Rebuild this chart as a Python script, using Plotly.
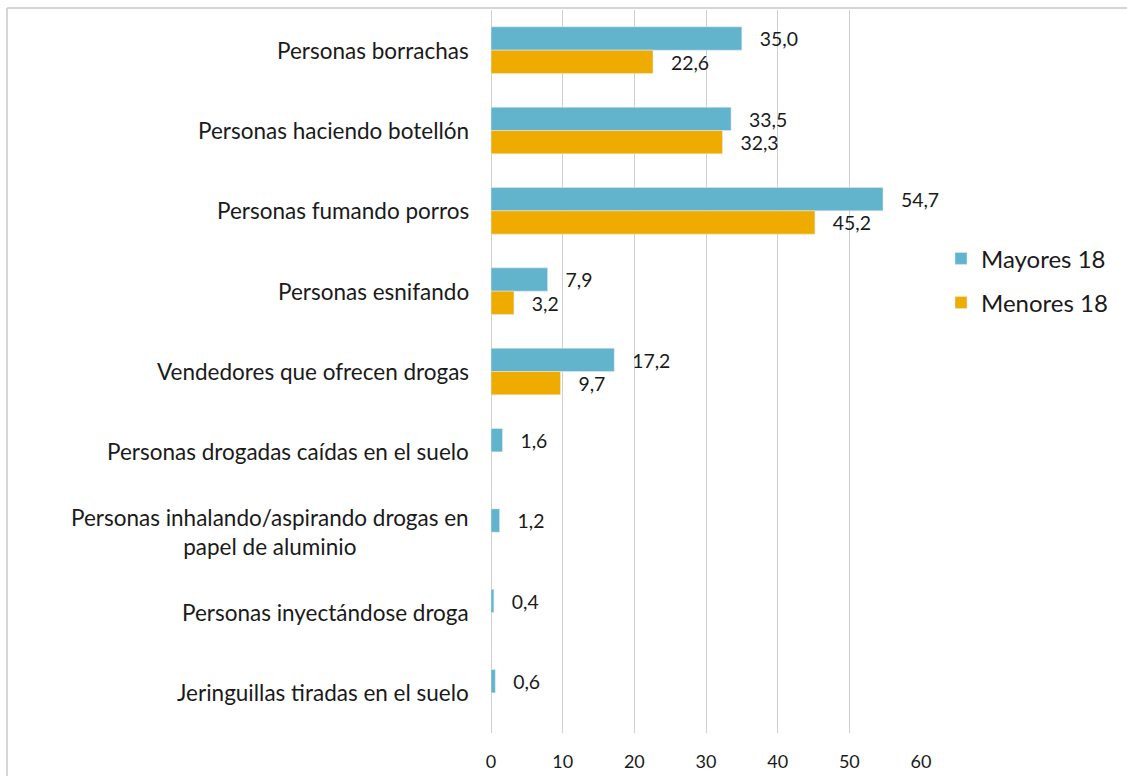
import plotly.graph_objects as go

categories = [
    "Personas borrachas",
    "Personas haciendo botellón",
    "Personas fumando porros",
    "Personas esnifando",
    "Vendedores que ofrecen drogas",
    "Personas drogadas caídas en el suelo",
    "Personas inhalando/aspirando drogas en<br>papel de aluminio",
    "Personas inyectándose droga",
    "Jeringuillas tiradas en el suelo",
]
mayores = [35.0, 33.5, 54.7, 7.9, 17.2, 1.6, 1.2, 0.4, 0.6]
menores = [22.6, 32.3, 45.2, 3.2, 9.7, None, None, None, None]
x_ticks = [0, 10, 20, 30, 40, 50, 60]

BLUE = "#62b4cc"
ORANGE = "#f0ab00"
FONT = "Lato"
TXT = "#1a1a1a"

def fmt(v):
    return "" if v is None else "\u00a0\u00a0\u00a0" + f"{v:.1f}".replace(".", ",")

fig = go.Figure()
fig.add_trace(go.Bar(
    y=categories, x=mayores, orientation="h", name="Mayores 18", legendgroup="a",
    marker=dict(color=BLUE), text=[fmt(v) for v in mayores],
    textposition="outside", cliponaxis=False,
    textfont=dict(family=FONT, size=20, color=TXT),
))
fig.add_trace(go.Bar(
    y=categories, x=menores, orientation="h", name="Menores 18", legendgroup="b",
    marker=dict(color=ORANGE), text=[fmt(v) for v in menores],
    textposition="outside", cliponaxis=False,
    textfont=dict(family=FONT, size=20, color=TXT),
))

for c in categories:
    fig.add_annotation(
        x=0, xref="paper", y=c, yref="y", text=c, showarrow=False,
        xanchor="right", xshift=-20, align="center",
        font=dict(family=FONT, size=22.5, color=TXT),
    )

# outer chart border
fig.add_shape(type="line", xref="paper", yref="paper",
              x0=(7 - 491) / 430, x1=(1140 - 491) / 430, y0=1 + 2 / 723, y1=1 + 2 / 723,
              line=dict(color="#c8c8c8", width=1.5))
fig.add_shape(type="line", xref="paper", yref="paper",
              x0=(7 - 491) / 430, x1=(7 - 491) / 430, y0=-0.1, y1=1 + 2 / 723,
              line=dict(color="#c8c8c8", width=1.5))

fig.update_layout(
    width=1127, height=776,
    margin=dict(l=491, r=206, t=10, b=43, autoexpand=False),
    paper_bgcolor="white", plot_bgcolor="white",
    barmode="group", bargap=0.42, bargroupgap=0,
    font=dict(family=FONT, size=17, color=TXT),
    showlegend=True,
    legend=dict(x=1 + (941 - 921) / 430, y=0.687, xanchor="left", yanchor="top",
                font=dict(family=FONT, size=24, color=TXT),
                tracegroupgap=10, itemwidth=30, bgcolor="rgba(0,0,0,0)"),
    xaxis=dict(range=[0, 60], tickvals=x_ticks, ticktext=[str(t) for t in x_ticks],
               showgrid=True, gridcolor="#d0d0d0", gridwidth=1,
               zeroline=True, zerolinecolor="#d0d0d0", zerolinewidth=1,
               showline=False, ticks="", ticklabelstandoff=16, automargin=False,
               tickfont=dict(family=FONT, size=18, color=TXT), fixedrange=True),
    yaxis=dict(autorange="reversed", showticklabels=False, showgrid=False,
               showline=False, zeroline=False, ticks="", fixedrange=True,
               automargin=False),
)

fig.write_html("out.html", config={"displayModeBar": False},
               post_script="document.body.style.margin='0';")
